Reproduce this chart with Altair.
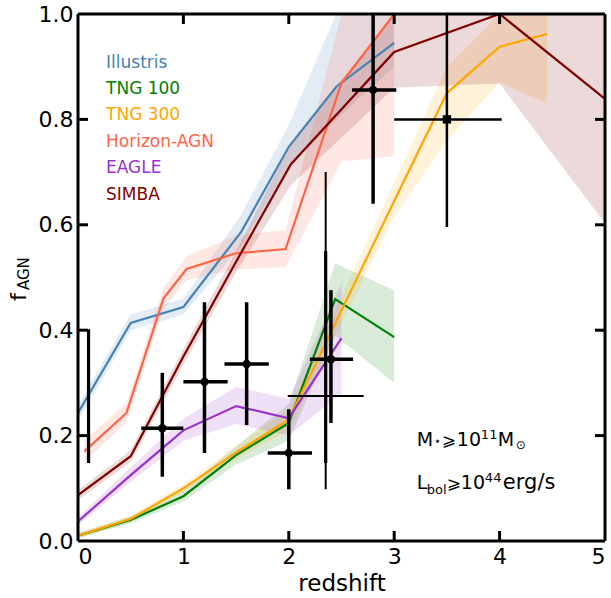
import altair as alt
import pandas as pd

FONT = "DejaVu Sans"

# ---------------- model series (redshift, f_AGN, band low, band high) -------------
ILL_Z = [0.0, 0.5, 1.0, 1.55, 2.0, 2.45, 3.0]
ILL_F = [0.243, 0.414, 0.444, 0.587, 0.748, 0.862, 0.945]
ILL_LO = [0.228, 0.400, 0.430, 0.560, 0.710, 0.800, 0.900]
ILL_HI = [0.258, 0.430, 0.460, 0.620, 0.790, 1.000, 1.000]

T100_Z = [0.0, 0.5, 1.0, 1.5, 2.0, 2.44, 3.0]
T100_F = [0.010, 0.040, 0.085, 0.163, 0.224, 0.459, 0.387]
T100_LO = [0.005, 0.033, 0.075, 0.145, 0.190, 0.390, 0.300]
T100_HI = [0.015, 0.047, 0.097, 0.180, 0.260, 0.527, 0.476]

T300_Z = [0.0, 0.5, 1.0, 1.5, 2.0, 3.0, 3.5, 4.0, 4.45]
T300_F = [0.010, 0.042, 0.100, 0.168, 0.230, 0.645, 0.850, 0.938, 0.962]
T300_LO = [0.005, 0.036, 0.092, 0.155, 0.210, 0.615, 0.760, 0.870, 0.830]
T300_HI = [0.015, 0.048, 0.108, 0.180, 0.250, 0.680, 0.900, 1.000, 1.000]

HAGN_Z = [0.06, 0.46, 0.81, 1.03, 1.5, 1.97, 2.5, 3.0]
HAGN_F = [0.170, 0.243, 0.460, 0.516, 0.546, 0.554, 0.869, 1.000]
HAGN_LO = [0.150, 0.225, 0.440, 0.495, 0.515, 0.520, 0.720, 0.730]
HAGN_HI = [0.190, 0.262, 0.480, 0.540, 0.580, 0.590, 1.000, 1.000]

EAGLE_Z = [0.0, 0.5, 1.0, 1.5, 2.0, 2.5]
EAGLE_F = [0.037, 0.125, 0.210, 0.256, 0.233, 0.385]
EAGLE_LO = [0.030, 0.112, 0.190, 0.222, 0.200, 0.280]
EAGLE_HI = [0.045, 0.140, 0.232, 0.292, 0.270, 0.490]

SIMBA_Z = [0.0, 0.5, 1.0, 1.5, 2.02, 3.0, 4.0, 5.0]
SIMBA_F = [0.087, 0.161, 0.350, 0.530, 0.715, 0.928, 1.000, 0.839]
SIMBA_LO = [0.078, 0.150, 0.335, 0.510, 0.675, 0.860, 0.868, 0.603]
SIMBA_HI = [0.097, 0.172, 0.365, 0.550, 0.755, 1.000, 1.000, 1.000]

SERIES = ["Illustris", "TNG 100", "TNG 300", "Horizon-AGN", "EAGLE", "SIMBA"]
COLORS = ["#4682b4", "#008000", "#ffa500", "#ff6347", "#9932cc", "#800000"]

# ---------------- observations -------------
OBS_X = [0.8, 1.2, 1.6, 2.0, 2.4, 2.8]
OBS_Y = [0.214, 0.302, 0.336, 0.167, 0.345, 0.856]
OBS_XLO = [0.60, 1.00, 1.39, 1.80, 2.20, 2.60]
OBS_XHI = [1.00, 1.42, 1.81, 2.22, 2.61, 3.02]
OBS_YLO = [0.122, 0.167, 0.220, 0.098, 0.224, 0.640]
OBS_YHI = [0.319, 0.453, 0.453, 0.250, 0.476, 1.100]

SQ_X = [3.5]
SQ_Y = [0.800]
SQ_XLO = [3.00]
SQ_XHI = [4.02]
SQ_YLO = [0.596]
SQ_YHI = [1.100]

THIN_X = [2.35]
THIN_Y = [0.275]
THIN_XLO = [1.99]
THIN_XHI = [2.71]
THIN_YLO = [0.098]
THIN_YHI = [0.700]

BAR_X = [0.1, 2.35]
BAR_YLO = [0.148, 0.148]
BAR_YHI = [0.402, 0.550]

XTICKS = [1, 2, 3, 4]
YTICKS = [0.2, 0.4, 0.6, 0.8]

# ---------------- build tables -------------
rows = []
for name, z, f, lo, hi in [
    ("Illustris", ILL_Z, ILL_F, ILL_LO, ILL_HI),
    ("TNG 100", T100_Z, T100_F, T100_LO, T100_HI),
    ("TNG 300", T300_Z, T300_F, T300_LO, T300_HI),
    ("Horizon-AGN", HAGN_Z, HAGN_F, HAGN_LO, HAGN_HI),
    ("EAGLE", EAGLE_Z, EAGLE_F, EAGLE_LO, EAGLE_HI),
    ("SIMBA", SIMBA_Z, SIMBA_F, SIMBA_LO, SIMBA_HI),
]:
    for a, b, c, d in zip(z, f, lo, hi):
        rows.append({"series": name, "z": a, "f": b, "lo": c, "hi": d})
models = pd.DataFrame(rows)

obs = pd.DataFrame({"x": OBS_X, "y": OBS_Y, "xlo": OBS_XLO, "xhi": OBS_XHI,
                    "ylo": OBS_YLO, "yhi": OBS_YHI})
sq = pd.DataFrame({"x": SQ_X, "y": SQ_Y, "xlo": SQ_XLO, "xhi": SQ_XHI,
                   "ylo": SQ_YLO, "yhi": SQ_YHI})
thin = pd.DataFrame({"x": THIN_X, "y": THIN_Y, "xlo": THIN_XLO, "xhi": THIN_XHI,
                     "ylo": THIN_YLO, "yhi": THIN_YHI})
bars = pd.DataFrame({"x": BAR_X, "ylo": BAR_YLO, "yhi": BAR_YHI})
xt = pd.DataFrame({"t": XTICKS})
yt = pd.DataFrame({"t": YTICKS})

XS = alt.Scale(domain=[0, 5], nice=False, zero=False)
YS = alt.Scale(domain=[0, 1], nice=False, zero=False)
XAX = alt.Axis(values=[0, 1, 2, 3, 4, 5], format="d", title="redshift", domain=False,
               ticks=False, grid=False, labelPadding=5, titlePadding=5)
YAX = alt.Axis(values=[0, 0.2, 0.4, 0.6, 0.8, 1.0], format=".1f", title=None,
               domain=False, ticks=False, grid=False, labelPadding=5)


def xq(f):
    return alt.X(f, type="quantitative", scale=XS, axis=XAX)


def yq(f):
    return alt.Y(f, type="quantitative", scale=YS, axis=YAX, stack=None)


def xd(v):
    return alt.XDatum(v, type="quantitative", scale=XS, axis=XAX)


def yd(v):
    return alt.YDatum(v, type="quantitative", scale=YS, axis=YAX)


color = alt.Color("series:N", scale=alt.Scale(domain=SERIES, range=COLORS), legend=None)

bands = alt.Chart(models).mark_area(opacity=0.15, clip=True).encode(
    x=xq("z:Q"), y=yq("lo:Q"), y2="hi:Q", color=color, detail="series:N")
lines = alt.Chart(models).mark_line(strokeWidth=2.2, clip=True).encode(
    x=xq("z:Q"), y=yq("f:Q"), color=color, detail="series:N")


def errbars(df, width, marker=None):
    v = alt.Chart(df).mark_rule(color="black", strokeWidth=width, clip=True).encode(
        x=xq("x:Q"), y=yq("ylo:Q"), y2="yhi:Q")
    h = alt.Chart(df).mark_rule(color="black", strokeWidth=width, clip=True).encode(
        x=xq("xlo:Q"), x2="xhi:Q", y=yq("y:Q"))
    out = [v, h]
    if marker:
        out.append(alt.Chart(df).mark_point(shape=marker, filled=True, size=70, opacity=1,
                                            color="black").encode(x=xq("x:Q"), y=yq("y:Q")))
    return out


obs_layers = errbars(obs, 3.5, "circle") + errbars(sq, 2.5, "square") + errbars(thin, 2)
bar_layer = alt.Chart(bars).mark_rule(color="black", strokeWidth=3.2, clip=True).encode(
    x=xq("x:Q"), y=yq("ylo:Q"), y2="yhi:Q")

# ticks (inward, all four sides)
TK = dict(color="black", strokeWidth=3)
t_bottom = alt.Chart(xt).mark_rule(**TK).encode(x=xq("t:Q"), y=yd(0), y2=alt.datum(0.019))
t_top = alt.Chart(xt).mark_rule(**TK).encode(x=xq("t:Q"), y=yd(1), y2=alt.datum(0.981))
t_left = alt.Chart(yt).mark_rule(**TK).encode(y=yq("t:Q"), x=xd(0), x2=alt.datum(0.095))
t_right = alt.Chart(yt).mark_rule(**TK).encode(y=yq("t:Q"), x=xd(5), x2=alt.datum(4.905))

one = pd.DataFrame({"k": [0]})
frame = [
    alt.Chart(one).mark_rule(**TK).encode(x=xd(0)),
    alt.Chart(one).mark_rule(**TK).encode(x=xd(5)),
    alt.Chart(one).mark_rule(**TK).encode(y=yd(0)),
    alt.Chart(one).mark_rule(**TK).encode(y=yd(1)),
]


def txt(s, x, y, size, color="black", dx=0, dy=0, angle=0):
    return alt.Chart(pd.DataFrame({"t": [s]})).mark_text(
        font=FONT, fontSize=size, dx=dx, dy=dy, align="left", baseline="alphabetic",
        color=color, angle=angle).encode(text="t:N", x=x, y=y)


# legend as coloured text
legend = [txt(n, xd(0.266), yd(0.898 - 0.05 * i), 17, color=c)
          for i, (n, c) in enumerate(zip(SERIES, COLORS))]

# annotation
AX = 3.215
L1 = 0.180
L2 = 0.0987
annot = [
    txt("M", xd(AX), yd(L1), 19),
    txt("⋆", xd(AX), yd(L1), 12, dx=17, dy=-1),
    txt("⩾", xd(AX), yd(L1), 17, dx=25),
    txt("10", xd(AX), yd(L1), 19, dx=40),
    txt("11", xd(AX), yd(L1), 13, dx=64, dy=-7),
    txt("M", xd(AX), yd(L1), 19, dx=81),
    txt("⊙", xd(AX), yd(L1), 12, dx=99, dy=3),
    txt("L", xd(AX), yd(L2), 19),
    txt("bol", xd(AX), yd(L2), 13, dx=10, dy=5),
    txt("⩾", xd(AX), yd(L2), 17, dx=30),
    txt("10", xd(AX), yd(L2), 19, dx=44),
    txt("44", xd(AX), yd(L2), 13, dx=68, dy=-7),
    txt("erg/s", xd(AX), yd(L2), 21, dx=86),
]

# y-axis title f_AGN
ytitle = [
    txt("f", alt.value(26 - 78), alt.value(301 - 14), 22, angle=270),
    txt("AGN", alt.value(29 - 78), alt.value(290 - 14), 15, angle=270),
]

chart = alt.layer(
    bands, lines, *obs_layers, bar_layer,
    t_bottom, t_top, t_left, t_right, *frame,
    *legend, *annot, *ytitle,
).properties(
    width=527, height=527,
    padding={"left": 78, "top": 14, "right": 6, "bottom": 57},
    autosize=alt.AutoSizeParams(type="none"),
).configure_view(strokeWidth=0).configure_axis(
    labelFont=FONT, labelFontSize=22, labelColor="black",
    titleFont=FONT, titleFontSize=23, titleFontWeight="normal", titleColor="black",
)

chart.save("out.html", embed_options={"renderer": "svg", "actions": False})
